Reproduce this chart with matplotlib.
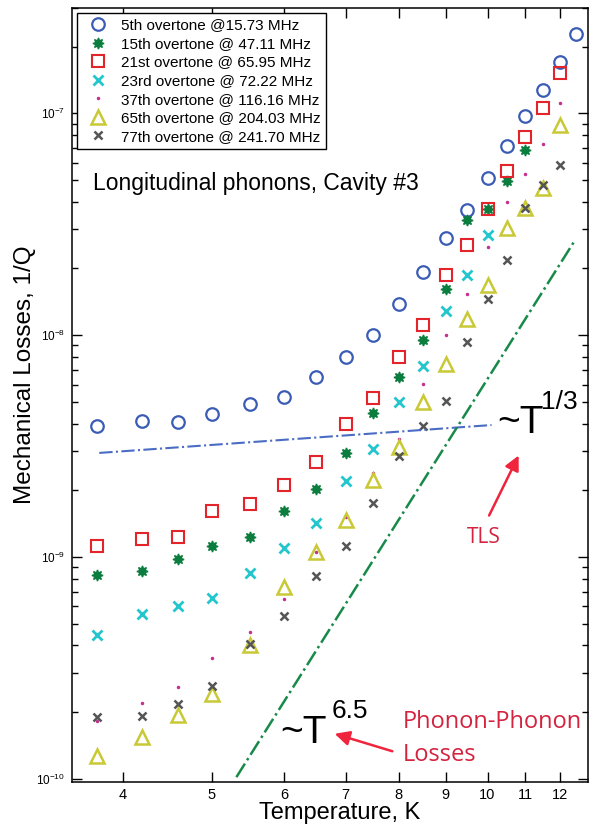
import matplotlib
matplotlib.use("Agg")
import matplotlib.pyplot as plt
from matplotlib.ticker import FixedLocator, NullFormatter, LogLocator, NullLocator

plt.rcParams['font.family'] = ['Liberation Sans', 'DejaVu Sans']

# temperatures, K
temps = [3.75, 4.2, 4.6, 5.0, 5.5, 6.0, 6.5, 7.0, 7.5, 8.0,
         8.5, 9.0, 9.5, 10.0, 10.5, 11.0, 11.5, 12.0, 12.5]

# mechanical losses 1/Q
q_5th = [3.89e-9, 4.11e-9, 4.06e-9, 4.41e-9, 4.92e-9, 5.27e-9, 6.49e-9, 7.98e-9, 1.007e-8, 1.38e-8,
         1.93e-8, 2.74e-8, 3.66e-8, 5.11e-8, 7.10e-8, 9.69e-8, 1.28e-7, 1.71e-7, 2.29e-7]
q_15th = [8.30e-10, 8.67e-10, 9.80e-10, 1.12e-9, 1.23e-9, 1.62e-9, 2.02e-9, 2.95e-9, 4.47e-9, 6.49e-9,
          9.49e-9, 1.61e-8, 3.30e-8, 3.70e-8, 4.94e-8, 6.81e-8]
q_21st = [1.12e-9, 1.21e-9, 1.23e-9, 1.61e-9, 1.73e-9, 2.11e-9, 2.69e-9, 4.00e-9, 5.24e-9, 7.98e-9,
          1.11e-8, 1.87e-8, 2.54e-8, 3.70e-8, 5.50e-8, 7.82e-8, 1.06e-7, 1.52e-7]
q_23rd = [4.44e-10, 5.54e-10, 6.04e-10, 6.56e-10, 8.45e-10, 1.10e-9, 1.42e-9, 2.20e-9, 3.06e-9, 5.01e-9,
          7.28e-9, 1.28e-8, 1.86e-8, 2.82e-8]
q_37th = [1.83e-10, 2.21e-10, 2.61e-10, 3.50e-10, 4.61e-10, 6.47e-10, 1.05e-9, 1.52e-9, 2.40e-9, 3.40e-9,
          6.05e-9, 1.00e-8, 1.53e-8, 2.50e-8, 3.98e-8, 5.35e-8, 7.25e-8, 1.11e-7]
q_65th = [1.27e-10, 1.55e-10, 1.94e-10, 2.41e-10, 4.01e-10, 7.35e-10, 1.06e-9, 1.47e-9, 2.22e-9, 3.14e-9,
          5.01e-9, 7.46e-9, 1.18e-8, 1.68e-8, 3.03e-8, 3.74e-8, 4.62e-8, 8.89e-8]
q_77th = [1.91e-10, 1.92e-10, 2.19e-10, 2.62e-10, 4.06e-10, 5.44e-10, 8.24e-10, 1.12e-9, 1.75e-9, 2.85e-9,
          3.90e-9, 5.04e-9, 9.33e-9, 1.46e-8, 2.18e-8, 3.76e-8, 4.74e-8, 5.83e-8]

# guide lines (end points)
tls_T = [3.77, 10.1]
tls_Q = [2.95e-9, 3.94e-9]
pp_T = [5.32, 12.42]
pp_Q = [1.02e-10, 2.63e-8]

fig = plt.figure(figsize=(5.91, 8.25), dpi=100)
ax = fig.add_axes([0.1218, 0.0521, 0.8731, 0.9388])
ax.set_xscale('log')
ax.set_yscale('log')

ax.plot(temps, q_5th, 'o', mfc='none', mec='#3b5cb5', ms=9, mew=1.6,
        label='5th overtone @15.73 MHz')
ax.plot(temps[:len(q_15th)], q_15th, marker=(8, 1, 0), ls='none', color='#0b7d3e', ms=8,
        label='15th overtone @ 47.11 MHz')
ax.plot(temps[:len(q_21st)], q_21st, 's', mfc='none', mec='#e3242b', ms=8.5, mew=1.5,
        label='21st overtone @ 65.95 MHz')
ax.plot(temps[:len(q_23rd)], q_23rd, 'x', color='#22c6cc', ms=6.5, mew=2,
        label='23rd overtone @ 72.22 MHz')
ax.plot(temps[:len(q_37th)], q_37th, '.', color='#c4308f', ms=3,
        label='37th overtone @ 116.16 MHz')
ax.plot(temps[:len(q_65th)], q_65th, '^', mfc='none', mec='#c9c936', ms=10, mew=1.8,
        label='65th overtone @ 204.03 MHz')
ax.plot(temps[:len(q_77th)], q_77th, 'x', color='#555555', ms=6, mew=1.8,
        label='77th overtone @ 241.70 MHz')

ax.plot(tls_T, tls_Q, ls='-.', color='#4a6cc4', lw=1.5)
ax.plot(pp_T, pp_Q, ls='-.', color='#178a4a', lw=1.8)

ax.set_xlim(3.52, 12.87)
ax.set_ylim(0.97e-10, 3.0e-7)

ax.xaxis.set_major_locator(FixedLocator([4, 5, 6, 7, 8, 9, 10, 11, 12]))
ax.xaxis.set_minor_locator(NullLocator())
ax.set_xticklabels(['4', '5', '6', '7', '8', '9', '10', '11', '12'])
ax.yaxis.set_major_locator(LogLocator(base=10, numticks=10))
ax.yaxis.set_minor_locator(LogLocator(base=10, subs=range(2, 10), numticks=10))
ax.yaxis.set_minor_formatter(NullFormatter())

ax.tick_params(which='both', direction='in', top=True, right=True, width=1)
ax.tick_params(which='major', length=7)
ax.tick_params(which='minor', length=4)
ax.tick_params(axis='x', labelsize=10.5, pad=4)
ax.tick_params(axis='y', labelsize=8.5, pad=5)
for s in ax.spines.values():
    s.set_linewidth(1.1)

ax.set_xlabel('Temperature, K', fontsize=17)
ax.xaxis.set_label_coords(0.519, -0.0255)
ax.set_ylabel('Mechanical Losses, 1/Q', fontsize=17.5)
ax.yaxis.set_label_coords(-0.091, 0.5255)
ax.yaxis.label.set_va('center')

leg = ax.legend(loc='upper left', bbox_to_anchor=(0.0097, 0.993), borderaxespad=0,
                fancybox=False, edgecolor='black', framealpha=1, fontsize=11,
                handletextpad=0.5, handlelength=2.0, labelspacing=0.3, borderpad=0.35)
leg.get_frame().set_linewidth(1.0)

ax.text(0.0407, 0.7734, 'Longitudinal phonons, Cavity #3', transform=ax.transAxes,
        fontsize=16.5, va='center', ha='left')

# power-law labels
ax.text(0.8236, 0.4635, '~T', transform=ax.transAxes, fontsize=28, va='center', ha='left')
ax.text(0.909, 0.4906, '1/3', transform=ax.transAxes, fontsize=19, va='center', ha='left')
ax.text(0.403, 0.0633, '~T', transform=ax.transAxes, fontsize=28, va='center', ha='left')
ax.text(0.504, 0.0917, '6.5', transform=ax.transAxes, fontsize=19, va='center', ha='left')

red = '#d3233f'
ax.annotate('', xy=(0.868, 0.4248), xytext=(0.806, 0.3409), xycoords='axes fraction',
            arrowprops=dict(arrowstyle='-|>', color='#f0243c', lw=1.8, mutation_scale=22))
ax.annotate('', xy=(0.504, 0.0633), xytext=(0.626, 0.0387), xycoords='axes fraction',
            arrowprops=dict(arrowstyle='-|>', color='#f0243c', lw=1.8, mutation_scale=22))
ax.text(0.7655, 0.3163, 'TLS', transform=ax.transAxes, fontsize=15, color=red,
        va='center', ha='left', family=['Open Sans', 'DejaVu Sans'])
ax.text(0.6415, 0.0775, 'Phonon-Phonon', transform=ax.transAxes, fontsize=17, color=red,
        va='center', ha='left', family=['Open Sans', 'DejaVu Sans'])
ax.text(0.6415, 0.0349, 'Losses', transform=ax.transAxes, fontsize=17, color=red,
        va='center', ha='left', family=['Open Sans', 'DejaVu Sans'])

fig.savefig('out.png', dpi=100)
